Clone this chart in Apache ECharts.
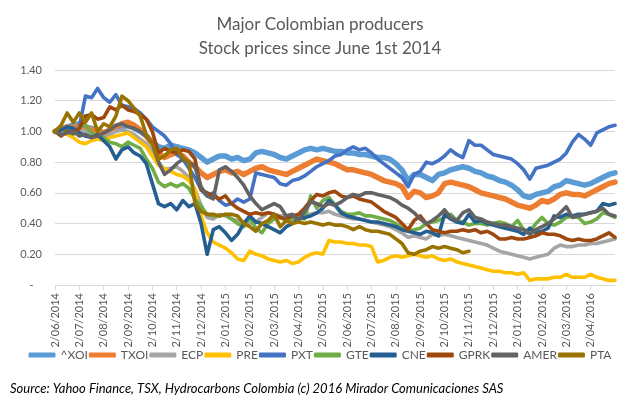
<!DOCTYPE html>
<html><head><meta charset="utf-8">
<script src="https://cdn.jsdelivr.net/npm/echarts@6/dist/echarts.min.js"></script>
<style>html,body{margin:0;padding:0;background:#fff}#c{width:640px;height:404px}</style>
</head><body><div id="c"></div>
<script>
const tickLabels = ['2/06/2014','2/07/2014','2/08/2014','2/09/2014','2/10/2014','2/11/2014','2/12/2014',
  '2/01/2015','2/02/2015','2/03/2015','2/04/2015','2/05/2015','2/06/2015','2/07/2015','2/08/2015','2/09/2015',
  '2/10/2015','2/11/2015','2/12/2015','2/01/2016','2/02/2016','2/03/2016','2/04/2016'];
const sampleDays = ['2','9','16','23'];
const lastDate = '30/04/2016';
const seriesNames = ['^XOI','TXOI','ECP','PRE','PXT','GTE','CNE','GPRK','AMER','PTA'];
const yTicks = { min: 0, max: 1.4, step: 0.2 };

const XOI = [1.00,1.02,1.03,1.04, 1.05,1.03,1.02,1.01, 0.99,1.00,1.02,1.03, 1.04,1.02,1.00,0.97, 0.93,0.90,0.89,0.91, 0.90,0.89,0.88,0.86, 0.83,0.80,0.82,0.84, 0.84,0.82,0.83,0.81,
  0.82,0.86,0.87,0.86, 0.85,0.83,0.82,0.84, 0.86,0.88,0.89,0.88, 0.89,0.88,0.87,0.87, 0.86,0.86,0.85,0.85, 0.84,0.83,0.83,0.82,
  0.79,0.75,0.68,0.72, 0.72,0.70,0.68,0.72, 0.73,0.75,0.76,0.77, 0.76,0.74,0.73,0.71, 0.70,0.68,0.67,0.65, 0.62,0.58,0.57,0.59, 0.60,0.61,0.64,0.65, 0.68,0.67,0.66,0.65, 0.66,0.68,0.70,0.72, 0.73];
const TXOI = [1.00,1.01,1.03,1.02, 1.04,1.03,1.01,1.00, 0.99,1.01,1.03,1.05, 1.06,1.04,1.01,0.97, 0.92,0.86,0.83,0.85, 0.86,0.84,0.80,0.77, 0.73,0.70,0.72,0.74, 0.75,0.73,0.74,0.72,
  0.74,0.76,0.77,0.75, 0.74,0.73,0.72,0.74, 0.76,0.78,0.80,0.82, 0.81,0.80,0.79,0.77, 0.75,0.75,0.74,0.73, 0.72,0.70,0.68,0.67,
  0.66,0.64,0.57,0.61, 0.60,0.57,0.58,0.60, 0.66,0.67,0.66,0.65, 0.64,0.62,0.60,0.59, 0.58,0.57,0.56,0.54, 0.52,0.51,0.50,0.52, 0.55,0.54,0.56,0.59, 0.60,0.59,0.59,0.58, 0.60,0.62,0.64,0.66, 0.67];
const ECP = [1.00,0.99,1.01,1.00, 1.01,1.00,0.98,0.97, 0.96,0.98,1.00,1.01, 1.00,0.98,0.95,0.92, 0.87,0.80,0.75,0.76, 0.77,0.74,0.70,0.62, 0.52,0.44,0.43,0.46, 0.45,0.43,0.42,0.41,
  0.40,0.41,0.44,0.47, 0.46,0.45,0.45,0.44, 0.45,0.46,0.46,0.47, 0.47,0.48,0.46,0.45, 0.44,0.43,0.43,0.42, 0.41,0.40,0.39,0.38,
  0.36,0.34,0.31,0.32, 0.31,0.30,0.33,0.32, 0.33,0.32,0.31,0.30, 0.29,0.28,0.27,0.26, 0.24,0.22,0.21,0.20, 0.19,0.18,0.17,0.18, 0.19,0.20,0.24,0.26, 0.25,0.25,0.26,0.26, 0.27,0.27,0.28,0.29, 0.30];
const PRE = [1.00,0.99,0.98,0.96, 0.93,0.92,0.94,0.95, 0.94,0.96,0.97,0.98, 0.99,0.96,0.93,0.90, 0.84,0.78,0.76,0.74, 0.72,0.71,0.68,0.62, 0.45,0.34,0.28,0.26, 0.24,0.21,0.17,0.16,
  0.22,0.20,0.19,0.17, 0.16,0.15,0.16,0.14, 0.15,0.18,0.20,0.21, 0.20,0.29,0.28,0.28, 0.27,0.27,0.26,0.26, 0.25,0.15,0.16,0.18,
  0.19,0.18,0.19,0.20, 0.19,0.18,0.19,0.17, 0.16,0.17,0.15,0.14, 0.13,0.12,0.11,0.10, 0.09,0.09,0.08,0.08, 0.07,0.08,0.03,0.04, 0.04,0.04,0.05,0.05, 0.07,0.05,0.05,0.05, 0.07,0.05,0.04,0.03, 0.03];
const PXT = [1.00,1.01,1.02,1.00, 1.03,1.23,1.22,1.28, 1.22,1.19,1.24,1.17, 1.16,1.15,1.12,1.08, 1.03,1.00,0.97,0.92, 0.85,0.82,0.76,0.70, 0.62,0.58,0.60,0.55, 0.52,0.53,0.56,0.54,
  0.56,0.73,0.72,0.71, 0.70,0.66,0.65,0.68, 0.69,0.71,0.74,0.77, 0.79,0.81,0.84,0.85, 0.88,0.90,0.88,0.89, 0.86,0.82,0.79,0.76,
  0.73,0.70,0.64,0.72, 0.74,0.80,0.79,0.81, 0.84,0.88,0.85,0.83, 0.94,0.91,0.91,0.88, 0.85,0.84,0.83,0.82, 0.79,0.75,0.69,0.76, 0.77,0.78,0.80,0.82, 0.86,0.93,0.98,0.95, 0.91,0.99,1.01,1.03, 1.04];
const GTE = [1.00,1.02,1.00,0.98, 1.03,1.04,0.99,0.97, 0.96,0.93,0.92,0.90, 0.93,0.91,0.89,0.82, 0.76,0.67,0.64,0.66, 0.64,0.66,0.63,0.56, 0.51,0.46,0.45,0.45, 0.46,0.43,0.40,0.38,
  0.44,0.37,0.34,0.40, 0.43,0.44,0.42,0.43, 0.44,0.43,0.58,0.50, 0.55,0.57,0.52,0.48, 0.46,0.46,0.47,0.45, 0.45,0.44,0.43,0.42,
  0.40,0.37,0.35,0.36, 0.37,0.40,0.41,0.42, 0.44,0.46,0.42,0.41, 0.39,0.40,0.40,0.39, 0.40,0.41,0.40,0.38, 0.42,0.36,0.35,0.40, 0.44,0.40,0.39,0.41, 0.44,0.45,0.44,0.40, 0.41,0.43,0.47,0.46, 0.44];
const CNE = [1.00,1.01,1.03,1.02, 0.99,0.97,0.96,0.98, 0.94,0.90,0.82,0.88, 0.90,0.86,0.84,0.79, 0.66,0.53,0.51,0.53, 0.49,0.55,0.51,0.53, 0.40,0.20,0.36,0.38, 0.34,0.29,0.33,0.40,
  0.45,0.41,0.40,0.38, 0.36,0.34,0.38,0.40, 0.43,0.44,0.45,0.47, 0.50,0.55,0.52,0.47, 0.45,0.44,0.43,0.42, 0.41,0.41,0.40,0.39,
  0.38,0.36,0.35,0.34, 0.33,0.35,0.34,0.32, 0.46,0.43,0.41,0.40, 0.46,0.41,0.42,0.40, 0.39,0.38,0.37,0.36, 0.35,0.33,0.37,0.34, 0.35,0.37,0.45,0.44, 0.46,0.45,0.46,0.46, 0.47,0.48,0.53,0.52, 0.53];
const GPRK = [1.00,0.97,1.00,0.99, 1.02,1.10,1.11,1.08, 1.09,1.16,1.14,1.17, 1.14,1.13,1.11,1.08, 1.00,0.86,0.89,0.87, 0.86,0.88,0.87,0.82, 0.62,0.60,0.58,0.56, 0.58,0.53,0.50,0.48,
  0.46,0.47,0.46,0.47, 0.46,0.44,0.43,0.45, 0.46,0.50,0.55,0.59, 0.58,0.60,0.61,0.58, 0.57,0.58,0.56,0.55, 0.54,0.51,0.48,0.46,
  0.44,0.40,0.36,0.42, 0.45,0.40,0.36,0.35, 0.34,0.35,0.35,0.36, 0.35,0.36,0.34,0.35, 0.33,0.30,0.30,0.31, 0.30,0.30,0.31,0.32, 0.34,0.33,0.33,0.32, 0.30,0.29,0.30,0.29, 0.29,0.30,0.32,0.34, 0.31];
const AMER = [1.00,0.98,0.99,1.00, 0.97,0.98,0.96,0.97, 0.99,1.01,1.04,1.05, 1.03,1.02,1.00,0.97, 0.92,0.80,0.72,0.75, 0.79,0.82,0.80,0.77, 0.64,0.58,0.56,0.75, 0.77,0.74,0.70,0.65,
  0.58,0.53,0.49,0.51, 0.53,0.51,0.45,0.46, 0.42,0.48,0.54,0.53, 0.51,0.53,0.52,0.54, 0.57,0.59,0.58,0.60, 0.60,0.59,0.58,0.57,
  0.55,0.52,0.50,0.47, 0.43,0.40,0.42,0.45, 0.49,0.44,0.42,0.47, 0.49,0.44,0.43,0.41, 0.40,0.39,0.39,0.38, 0.37,0.36,0.33,0.36, 0.38,0.40,0.43,0.47, 0.51,0.44,0.45,0.46, 0.47,0.48,0.50,0.46, 0.45];
const PTA = [1.00,1.04,1.12,1.06, 1.12,1.06,1.12,1.00, 1.05,1.03,1.10,1.23, 1.20,1.15,1.10,0.98, 0.92,0.82,0.84,0.88, 0.89,0.83,0.80,0.53, 0.48,0.46,0.46,0.45, 0.46,0.46,0.45,0.40,
  0.38,0.35,0.40,0.42, 0.46,0.38,0.42,0.40, 0.41,0.40,0.41,0.40, 0.39,0.40,0.39,0.39, 0.38,0.36,0.38,0.36, 0.35,0.35,0.34,0.33,
  0.30,0.27,0.21,0.20, 0.22,0.23,0.25,0.24, 0.25,0.24,0.23,0.21, 0.22];

const seriesData = [XOI, TXOI, ECP, PRE, PXT, GTE, CNE, GPRK, AMER, PTA];
const colors = ['#5B9BD5','#ED7D31','#A5A5A5','#FFC000','#4472C4','#70AD47','#255E91','#9E480E','#636363','#997300'];
const widths = [5.5,5.5,3.6,3.6,3.6,3.6,3.6,3.6,3.6,3.6];

const categories = [];
tickLabels.forEach(t => sampleDays.forEach(d => categories.push(t.replace(/^2\//, d + '/'))));
categories.push(lastDate);
const tickIdx = new Set(tickLabels.map(t => categories.indexOf(t)));

const FONT = 'Lato, "Open Sans", sans-serif';
const chart = echarts.init(document.getElementById('c'), null, { renderer: 'canvas' });
chart.setOption({
  animation: false,
  backgroundColor: '#ffffff',
  title: {
    text: 'Major Colombian producers\nStock prices since June 1st 2014',
    left: 'center', top: 8,
    textStyle: { fontFamily: FONT, fontSize: 17, fontWeight: 'normal', color: '#595959', lineHeight: 24 }
  },
  grid: { left: 55, right: 25, top: 70, bottom: 119, containLabel: false },
  xAxis: {
    type: 'category', data: categories, boundaryGap: false,
    axisLine: { lineStyle: { color: '#D9D9D9', width: 1 } },
    axisTick: { show: true, length: 5, interval: (i) => tickIdx.has(i), lineStyle: { color: '#D9D9D9' } },
    axisLabel: { interval: (i) => tickIdx.has(i), rotate: 90, margin: 8, fontFamily: FONT, fontSize: 11, color: '#595959' },
    splitLine: { show: false }
  },
  yAxis: {
    type: 'value', min: yTicks.min, max: yTicks.max, interval: yTicks.step,
    axisLine: { show: false }, axisTick: { show: false },
    axisLabel: { margin: 13, fontFamily: FONT, fontSize: 11, color: '#595959',
      formatter: v => (Math.abs(v) < 1e-9 ? '-   ' : v.toFixed(2)) },
    splitLine: { lineStyle: { color: '#D9D9D9', width: 1 } }
  },
  legend: {
    bottom: 38, left: 'center', itemGap: 1, itemWidth: 27, itemHeight: 5, icon: 'roundRect',
    textStyle: { fontFamily: FONT, fontSize: 12, color: '#595959' },
    data: seriesNames
  },
  graphic: [{
    type: 'text', left: 10, top: 382,
    style: { text: 'Source: Yahoo Finance, TSX, Hydrocarbons Colombia (c) 2016 Mirador Comunicaciones SAS',
      font: 'italic 13px ' + FONT, fill: '#000000' }
  }],
  series: seriesNames.map((n, k) => ({
    name: n, type: 'line', data: seriesData[k], showSymbol: false, symbol: 'none',
    color: colors[k],
    lineStyle: { width: widths[k], color: colors[k], cap: 'round', join: 'round' },
    emphasis: { disabled: true }
  }))
});
</script></body></html>
